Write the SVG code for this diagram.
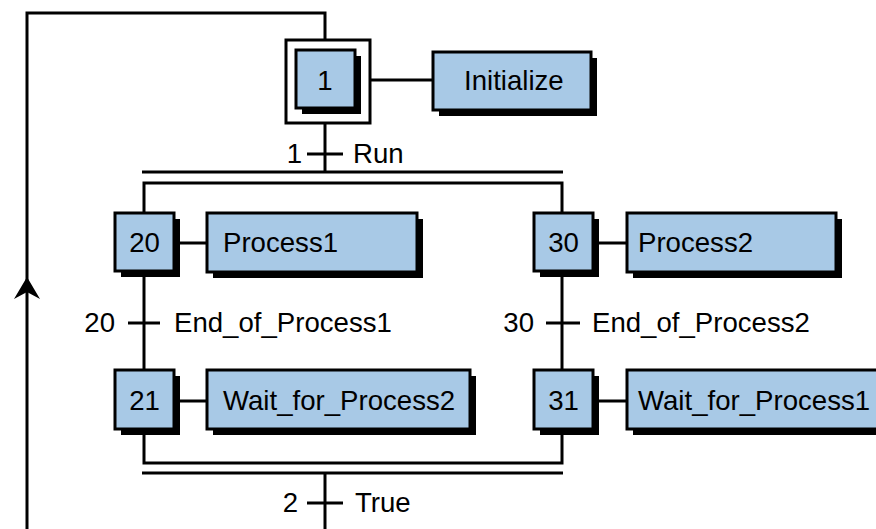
<svg xmlns="http://www.w3.org/2000/svg" width="876" height="529" viewBox="0 0 876 529">
<style>
  .box{fill:#a8c9e6;stroke:#000;stroke-width:3}
  .sh{fill:#000}
  .ln{stroke:#000;stroke-width:3;fill:none}
  text{font-family:"Liberation Sans",Arial,sans-serif;font-size:27.6px;fill:#000}
  .c{text-anchor:middle}
  .e{text-anchor:end}
</style>
<rect width="876" height="529" fill="#fff"/>
<g id="connectors">
  <polyline class="ln" points="325,40 325,13 27,13 27,529"/>
  <polygon points="27,277 14,299 27,292 40,299" fill="#000"/>
  <line class="ln" x1="370" y1="80" x2="433" y2="80"/>
  <line class="ln" x1="325" y1="123" x2="325" y2="172"/>
  <line class="ln" x1="307" y1="154" x2="343" y2="154"/>
  <line class="ln" x1="142" y1="172" x2="563" y2="172"/>
  <polyline class="ln" points="144,213 144,183 562,183 562,213"/>
  <line class="ln" x1="174" y1="243" x2="207" y2="243"/>
  <line class="ln" x1="593" y1="243" x2="627" y2="243"/>
  <line class="ln" x1="144" y1="271" x2="144" y2="370"/>
  <line class="ln" x1="562" y1="271" x2="562" y2="370"/>
  <line class="ln" x1="128" y1="323" x2="160" y2="323"/>
  <line class="ln" x1="546" y1="323" x2="580" y2="323"/>
  <line class="ln" x1="174" y1="401" x2="207" y2="401"/>
  <line class="ln" x1="593" y1="401" x2="627" y2="401"/>
  <polyline class="ln" points="144,429 144,463 562,463 562,429"/>
  <line class="ln" x1="142" y1="473" x2="563" y2="473"/>
  <line class="ln" x1="325" y1="473" x2="325" y2="529"/>
  <line class="ln" x1="307" y1="503" x2="343" y2="503"/>
  <text x="302" y="163" class="e">1</text>
  <text x="353" y="163">Run</text>
  <text x="115" y="332" class="e">20</text>
  <text x="174" y="332">End_of_Process1</text>
  <text x="534" y="332" class="e">30</text>
  <text x="592" y="332">End_of_Process2</text>
  <text x="298" y="512" class="e">2</text>
  <text x="355" y="512">True</text>
</g>
<g id="step1">
  <rect x="286" y="40" width="84" height="83" fill="#fff" stroke="#000" stroke-width="3"/>
  <rect class="sh" x="302" y="56" width="59" height="58"/>
  <rect class="box" x="296" y="50" width="59" height="58"/>
  <text x="325" y="90" class="c">1</text>
</g>
<g id="action-initialize">
  <rect class="sh" x="439" y="58" width="158" height="58"/>
  <rect class="box" x="433" y="52" width="158" height="58"/>
  <text x="464" y="90">Initialize</text>
</g>
<g id="step20">
  <rect class="sh" x="121" y="219" width="59" height="58"/>
  <rect class="box" x="115" y="213" width="59" height="58"/>
  <text x="144.5" y="252" class="c">20</text>
</g>
<g id="action-process1">
  <rect class="sh" x="213" y="219" width="210" height="59"/>
  <rect class="box" x="207" y="213" width="210" height="59"/>
  <text x="223" y="252">Process1</text>
</g>
<g id="step30">
  <rect class="sh" x="540" y="219" width="59" height="58"/>
  <rect class="box" x="534" y="213" width="59" height="58"/>
  <text x="563.5" y="252" class="c">30</text>
</g>
<g id="action-process2">
  <rect class="sh" x="633" y="219" width="209" height="59"/>
  <rect class="box" x="627" y="213" width="209" height="59"/>
  <text x="638" y="252">Process2</text>
</g>
<g id="step21">
  <rect class="sh" x="121" y="376" width="59" height="59"/>
  <rect class="box" x="115" y="370" width="59" height="59"/>
  <text x="144.5" y="410" class="c">21</text>
</g>
<g id="action-wait2">
  <rect class="sh" x="213" y="376" width="263" height="59"/>
  <rect class="box" x="207" y="370" width="263" height="59"/>
  <text x="223" y="410">Wait_for_Process2</text>
</g>
<g id="step31">
  <rect class="sh" x="540" y="376" width="59" height="59"/>
  <rect class="box" x="534" y="370" width="59" height="59"/>
  <text x="563.5" y="410" class="c">31</text>
</g>
<g id="action-wait1">
  <rect class="sh" x="633" y="376" width="263" height="59"/>
  <rect class="box" x="627" y="370" width="263" height="59"/>
  <text x="638" y="410">Wait_for_Process1</text>
</g>
</svg>
